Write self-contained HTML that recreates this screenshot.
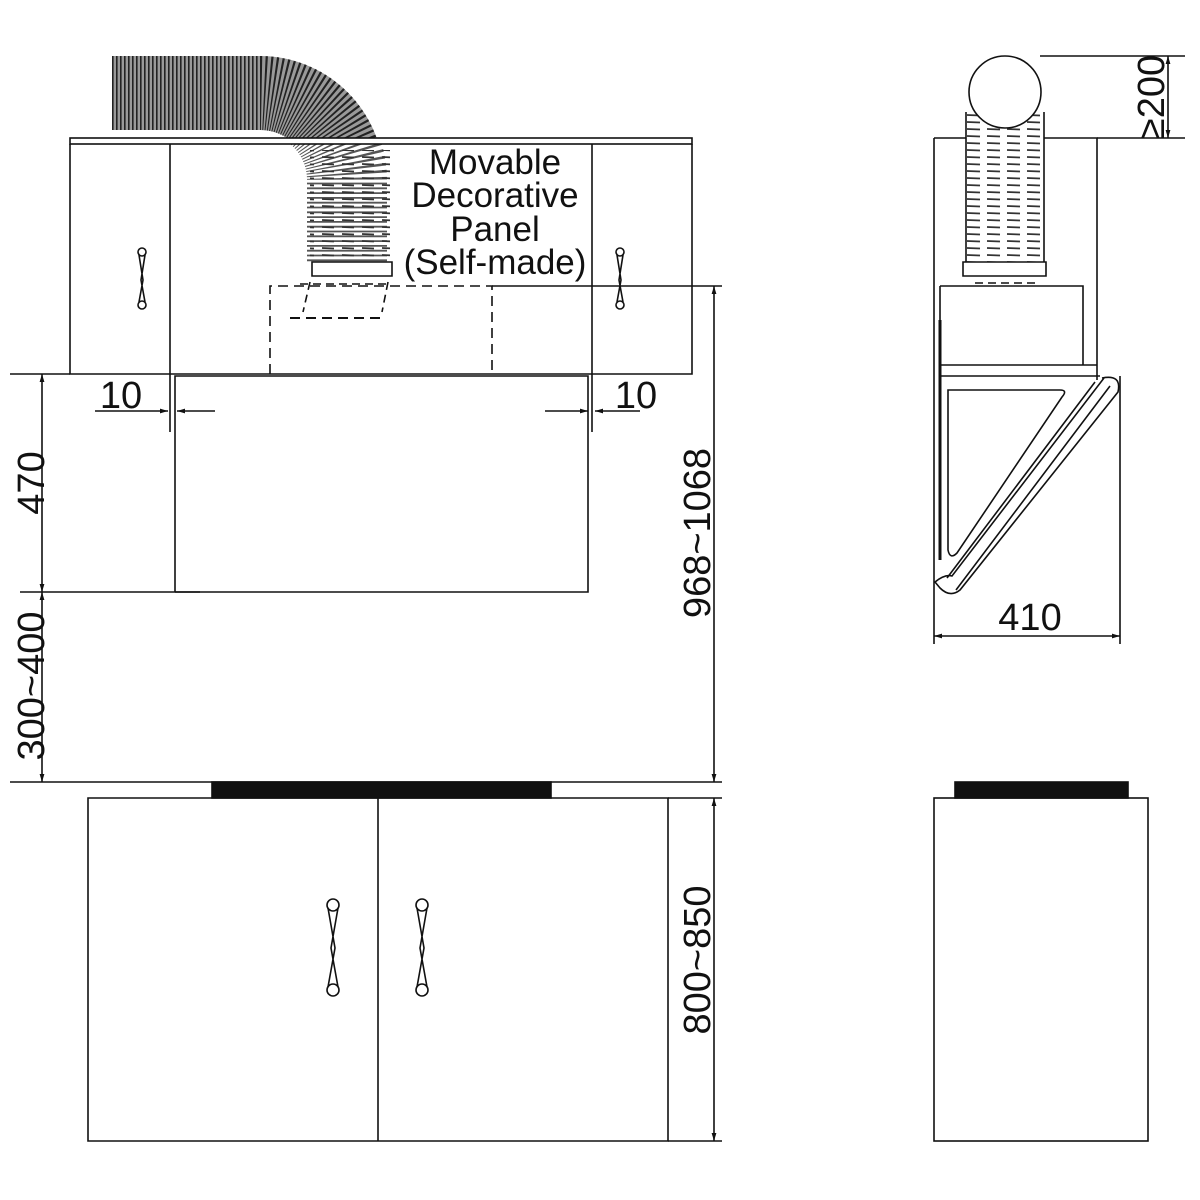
<!DOCTYPE html>
<html><head><meta charset="utf-8"><style>
html,body{margin:0;padding:0;background:#fff}
svg{display:block}
text{font-family:"Liberation Sans",Arial,sans-serif;fill:#111}
</style></head><body>
<svg width="1200" height="1200" viewBox="0 0 1200 1200" xmlns="http://www.w3.org/2000/svg">
<defs>
<marker id="ar" viewBox="0 0 10 10" refX="10" refY="5" markerWidth="10" markerHeight="8" orient="auto-start-reverse" markerUnits="userSpaceOnUse"><path d="M0,2 L10,5 L0,8 z" fill="#111"/></marker>
<clipPath id="above"><rect x="0" y="0" width="1200" height="139"/></clipPath>
<clipPath id="below"><rect x="0" y="144" width="1200" height="200"/></clipPath>
<pattern id="rib" width="20" height="7" patternUnits="userSpaceOnUse"><line x1="2" y1="3" x2="14" y2="3.5" stroke="#333" stroke-width="1.8"/></pattern>
<pattern id="rib2" width="20" height="7" patternUnits="userSpaceOnUse" patternTransform="translate(5,0)"><line x1="2" y1="3" x2="15" y2="3.5" stroke="#333" stroke-width="1.8"/></pattern>
</defs>
<g fill="none" stroke="#111" stroke-width="1.6">
<g clip-path="url(#above)">
<path d="M112,93 L260,93 A87,87 0 0 1 347,180" stroke="#999" stroke-width="74"/>
<path d="M112,93 L260,93 A87,87 0 0 1 347,180" stroke="#222" stroke-width="74" stroke-dasharray="1.6 2.4"/>
</g>
<g clip-path="url(#below)">
<path d="M260,93 A87,87 0 0 1 347,180 L347,262" stroke="#fff" stroke-width="80"/>
<path d="M260,93 A87,87 0 0 1 347,180 L347,262" stroke="#555" stroke-width="80" stroke-dasharray="1.8 3"/>
</g>
<rect x="310" y="150" width="80" height="110" fill="url(#rib)" stroke="none"/>
<rect x="70" y="138" width="622" height="6" fill="#fff"/>
<path d="M70,144 V374 H692 V144 M170,144 V374 M592,144 V374"/>
<path d="M10,374 H70"/>
<circle cx="142" cy="252" r="4"/><circle cx="142" cy="305" r="4"/>
<path d="M139,255 L143,280 L139,302 M145,255 L141,280 L145,302"/>
<circle cx="620" cy="252" r="4"/><circle cx="620" cy="305" r="4"/>
<path d="M617,255 L621,280 L617,302 M623,255 L619,280 L623,302"/>
<path d="M312,262 H392 V276 H312 Z" fill="#fff"/>
<path d="M300,284 H390" stroke-dasharray="8 5"/>
<path d="M310,282 L303,312 M388,282 L382,312" stroke-dasharray="8 5"/>
<path d="M290,318 H380" stroke-dasharray="10 6" stroke-width="2"/>
<path d="M270,374 V286 H492 V374" stroke-dasharray="10 6"/>
<path d="M492,286 H722"/>
<path d="M175,592 V376 H588 V592 H175"/>
<path d="M170,374 V432 M592,374 V432"/>
<path d="M20,592 H200"/>
<line x1="95" y1="411" x2="168" y2="411" marker-end="url(#ar)"/>
<line x1="215" y1="411" x2="177" y2="411" marker-end="url(#ar)"/>
<line x1="545" y1="411" x2="588" y2="411" marker-end="url(#ar)"/>
<line x1="640" y1="411" x2="595" y2="411" marker-end="url(#ar)"/>
<line x1="42" y1="374" x2="42" y2="592" marker-start="url(#ar)" marker-end="url(#ar)"/>
<line x1="42" y1="592" x2="42" y2="782" marker-start="url(#ar)" marker-end="url(#ar)"/>
<path d="M10,782 H722"/>
<line x1="714" y1="286" x2="714" y2="782" marker-start="url(#ar)" marker-end="url(#ar)"/>
<rect x="212" y="782" width="339" height="16" fill="#111"/>
<path d="M88,798 H668 V1141 H88 Z M378,798 V1141"/>
<path d="M668,798 H722 M668,1141 H722"/>
<line x1="714" y1="798" x2="714" y2="1141" marker-start="url(#ar)" marker-end="url(#ar)"/>
<circle cx="333" cy="905" r="6"/><circle cx="333" cy="990" r="6"/>
<path d="M328,908 L335,948 L328,987 M338,908 L331,948 L338,987"/>
<circle cx="422" cy="905" r="6"/><circle cx="422" cy="990" r="6"/>
<path d="M417,908 L424,948 L417,987 M427,908 L420,948 L427,987"/>
<!-- side view -->
<path d="M934,138 H1097 V380 M934,138 V644 M1120,376 V644"/>
<path d="M1040,56 H1185 M1097,138 H1185"/>
<line x1="1168" y1="56" x2="1168" y2="138" marker-start="url(#ar)" marker-end="url(#ar)"/>
<rect x="966" y="112" width="78" height="150" fill="#fff" stroke="none"/>
<rect x="966" y="112" width="78" height="150" fill="url(#rib2)" stroke="none"/>
<path d="M966,112 V262 M1044,112 V262"/>
<ellipse cx="1005" cy="92" rx="36" ry="36" fill="#fff"/>
<path d="M963,262 H1046 V276 H963 Z" fill="#fff"/>
<path d="M975,283 H1040" stroke-dasharray="8 5"/>
<path d="M940,286 H1083 V365 H1097 M1083,365 H940 V286"/>
<path d="M940,376 H1100"/>
<path d="M948,390 H1060 Q1068,390 1062,397 L957,553 Q950,560 948,550 Z"/>
<path d="M1102,378 Q1122,374 1118,392 L960,590 Q950,598 940,588 L935,582 Q945,574 952,576 L1104,378"/>
<path d="M1095,382 L947,578 M1110,386 L956,590"/>
<path d="M940,320 V560" stroke-width="3"/>
<line x1="934" y1="636" x2="1120" y2="636" marker-start="url(#ar)" marker-end="url(#ar)"/>
<rect x="955" y="782" width="173" height="16" fill="#111"/>
<rect x="934" y="798" width="214" height="343"/>
</g>
<g font-size="35">
<text x="495" y="174" text-anchor="middle">Movable</text>
<text x="495" y="207" text-anchor="middle">Decorative</text>
<text x="495" y="241" text-anchor="middle">Panel</text>
<text x="495" y="274" text-anchor="middle">(Self-made)</text>
</g>
<g font-size="38">
<text x="121" y="408" text-anchor="middle">10</text>
<text x="636" y="408" text-anchor="middle">10</text>
<text transform="translate(44,483) rotate(-90)" text-anchor="middle">470</text>
<text transform="translate(44,686) rotate(-90)" text-anchor="middle">300~400</text>
<text transform="translate(710,533) rotate(-90)" text-anchor="middle">968~1068</text>
<text transform="translate(710,960) rotate(-90)" text-anchor="middle">800~850</text>
<text x="1030" y="630" text-anchor="middle">410</text>
<text transform="translate(1164,97) rotate(-90)" text-anchor="middle">≥200</text>
</g>
</svg>
</body></html>
